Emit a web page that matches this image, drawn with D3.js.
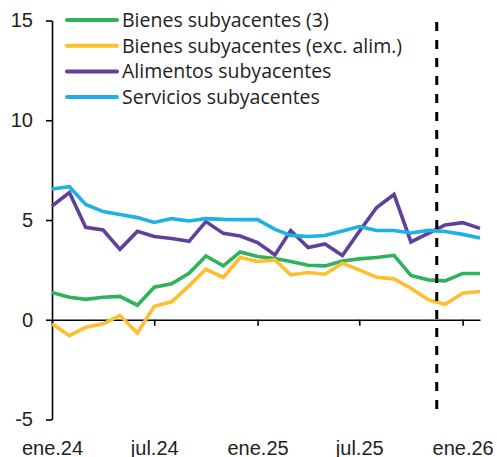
<!DOCTYPE html>
<html>
<head>
<meta charset="utf-8">
<script src="https://cdn.jsdelivr.net/npm/d3@7"></script>
<style>
  body { margin: 0; background: #fff; }
  svg { display: block; font-family: "Open Sans", sans-serif; }
  .axis path, .axis line { stroke: #000; stroke-width: 1.6; }
  .axis text { font-size: 20px; fill: #222; }
</style>
</head>
<body>
<div class="chart"></div>
<script>
// months from ene.24 to feb.26
var months = d3.timeMonths(new Date(2024, 0, 1), new Date(2026, 1, 2));

var bienes = [1.37, 1.13, 1.02, 1.13, 1.17, 0.73, 1.63, 1.8, 2.33, 3.2, 2.7, 3.4, 3.17,
              3.07, 2.92, 2.73, 2.7, 2.95, 3.05, 3.12, 3.23, 2.22, 2.0, 1.95, 2.32, 2.32];
var bienesExc = [-0.2, -0.8, -0.38, -0.2, 0.22, -0.67, 0.67, 0.9, 1.7, 2.53, 2.12, 3.12, 2.92,
                 3.0, 2.25, 2.37, 2.28, 2.83, 2.5, 2.13, 2.05, 1.58, 1.0, 0.77, 1.33, 1.42];
var alimentos = [5.7, 6.38, 4.63, 4.5, 3.53, 4.43, 4.17, 4.07, 3.93, 4.92, 4.33, 4.2, 3.87,
                 3.25, 4.47, 3.62, 3.8, 3.22, 4.42, 5.63, 6.28, 3.9, 4.33, 4.75, 4.87, 4.58];
var servicios = [6.55, 6.67, 5.78, 5.42, 5.28, 5.12, 4.88, 5.07, 4.95, 5.07, 5.03, 5.02, 5.02,
                 4.53, 4.23, 4.17, 4.22, 4.45, 4.67, 4.47, 4.47, 4.35, 4.48, 4.42, 4.28, 4.1];

var seriesNames = ["Bienes subyacentes (3)", "Bienes subyacentes (exc. alim.)",
                   "Alimentos subyacentes", "Servicios subyacentes"];
var seriesColors = ["#2eb35c", "#fdbf2d", "#5f419b", "#1fb0e6"];
var seriesValues = [bienes, bienesExc, alimentos, servicios];

var yTicks = [-5, 0, 5, 10, 15];
var xTickDates = [new Date(2024, 0, 1), new Date(2024, 6, 1), new Date(2025, 0, 1),
                  new Date(2025, 6, 1), new Date(2026, 0, 1)];
var xTickLabels = ["ene.24", "jul.24", "ene.25", "jul.25", "ene.26"];
var cutDate = new Date(2025, 10, 16);   // dashed separator

var svg = d3.select(".chart").append("svg").attr("width", 497).attr("height", 457);

var x = d3.scaleTime().domain([months[0], months[months.length - 1]]).range([52, 480]);
var y = d3.scaleLinear().domain([-5, 15]).range([419.5, 20.5]);

// y axis
svg.append("g")
    .attr("class", "axis")
    .attr("transform", "translate(52,0)")
    .call(d3.axisLeft(y).tickValues(yTicks).tickSize(6).tickSizeOuter(0).tickPadding(13)
      .tickFormat(d => String(d)));

// x axis at zero, ticks only
svg.append("g")
    .attr("class", "axis")
    .attr("transform", `translate(0,${y(0)})`)
    .call(d3.axisBottom(x).tickValues(xTickDates).tickSize(6).tickSizeOuter(0).tickFormat(""));

// x labels at the bottom
var xl = svg.append("g")
    .attr("class", "axis")
    .attr("transform", "translate(0,441)")
    .call(d3.axisBottom(x).tickValues(xTickDates).tickSize(0).tickPadding(0)
      .tickFormat((d, i) => xTickLabels[i]));
xl.select(".domain").remove();

// lines
var line = d3.line().x((d, i) => x(months[i])).y(d => y(d));
seriesValues.forEach(function(vals, k) {
  svg.append("path")
      .datum(vals)
      .attr("fill", "none")
      .attr("stroke", seriesColors[k])
      .attr("stroke-width", 3.6)
      .attr("stroke-linejoin", "miter")
      .attr("d", line);
});

// dashed vertical
svg.append("line")
    .attr("x1", x(cutDate)).attr("x2", x(cutDate))
    .attr("y1", 22).attr("y2", 417)
    .attr("stroke", "#000")
    .attr("stroke-width", 3)
    .attr("stroke-dasharray", "9,9");

// legend
var lg = svg.append("g");
seriesNames.forEach(function(name, k) {
  var yy = 20 + k * 25.7;
  lg.append("line")
      .attr("x1", 67).attr("x2", 117).attr("y1", yy).attr("y2", yy)
      .attr("stroke", seriesColors[k]).attr("stroke-width", 4).attr("stroke-linecap", "round");
  lg.append("text")
      .attr("x", 122).attr("y", yy).attr("dy", "0.35em")
      .style("font-size", "19.5px").style("fill", "#222")
      .text(name);
});
</script>
</body>
</html>
